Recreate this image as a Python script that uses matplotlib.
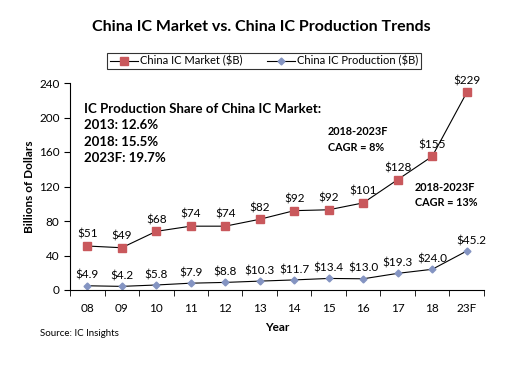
import numpy as np
import matplotlib.pyplot as plt

plt.rcParams['font.family'] = ['Lato', 'DejaVu Sans']

# data
years = ['08', '09', '10', '11', '12', '13', '14', '15', '16', '17', '18', '23F']
market = [51, 49, 68, 74, 74, 82, 92, 93, 101, 128, 155, 229]
market_lbl = ['$51', '$49', '$68', '$74', '$74', '$82', '$92', '$92', '$101', '$128', '$155', '$229']
production = [4.9, 4.2, 5.8, 7.9, 8.8, 10.3, 11.7, 13.4, 13.0, 19.3, 24.0, 45.2]
production_lbl = ['$4.9', '$4.2', '$5.8', '$7.9', '$8.8', '$10.3', '$11.7', '$13.4', '$13.0', '$19.3', '$24.0', '$45.2']

RED = '#c9585c'
BLUE = '#8494c2'

fig = plt.figure(figsize=(5.18, 3.70), dpi=100)
ax = fig.add_axes([70/518, 1-290/370, 414/518, 207/370])

x = np.arange(len(years))
ax.plot(x, market, color='black', lw=0.8, marker='s', ms=5.5,
        mfc=RED, mec=RED, label='China IC Market ($B)')
ax.plot(x, production, color='black', lw=0.8, marker='D', ms=3.5,
        mfc=BLUE, mec=BLUE, label='China IC Production ($B)')

for i in range(len(years)):
    ax.annotate(market_lbl[i], (x[i], market[i]), xytext=(0, 4.5), textcoords='offset points',
                ha='center', va='bottom', fontsize=8.5)
    ax.annotate(production_lbl[i], (x[i], production[i]), xytext=(3 if i == 11 else 0, 3.5),
                textcoords='offset points', ha='center', va='bottom', fontsize=8.5)

ax.set_xlim(-0.5, len(years) - 0.5)
ax.set_ylim(0, 240)
ax.set_yticks(range(0, 241, 40))
ax.set_xticks(x)
ax.set_xticklabels(years, fontsize=8.5)
ax.set_xticks(np.arange(-0.5, len(years), 1), minor=True)
ax.tick_params(axis='x', which='major', length=0, pad=9)
ax.tick_params(axis='x', which='minor', length=4, direction='out')
ax.tick_params(axis='y', length=4, labelsize=8.5)
for s in ['top', 'right']:
    ax.spines[s].set_visible(False)
ax.set_xlabel('Year', fontsize=8.5, fontweight='bold', labelpad=6)
ax.set_ylabel('Billions of Dollars', fontsize=8.5, fontweight='bold', labelpad=3)

ax.text(0.035, 0.905, 'IC Production Share of China IC Market:\n2013: 12.6%\n2018: 15.5%\n2023F: 19.7%',
        transform=ax.transAxes, fontsize=9.5, fontweight='bold', va='top', linespacing=1.45)
ax.text(0.622, 0.79, '2018-2023F\nCAGR = 8%', transform=ax.transAxes,
        fontsize=7.8, fontweight='bold', va='top', linespacing=1.45)
ax.text(0.833, 0.52, '2018-2023F\nCAGR = 13%', transform=ax.transAxes,
        fontsize=7.8, fontweight='bold', va='top', linespacing=1.45)

fig.text(0.505, 1-27/370, 'China IC Market vs. China IC Production Trends',
         ha='center', va='center', fontsize=11.5, fontweight='bold')
fig.text(40/518, 1-333/370, 'Source: IC Insights', fontsize=7, va='center')

leg = fig.legend(loc='center', bbox_to_anchor=(264/518, 1-61/370), ncol=2, fontsize=8,
                 frameon=True, fancybox=False, edgecolor='black', handlelength=2.5,
                 handletextpad=0.2, columnspacing=2.2, borderpad=0.25, borderaxespad=0)
leg.get_frame().set_linewidth(0.8)

fig.savefig('out.png', dpi=100)
